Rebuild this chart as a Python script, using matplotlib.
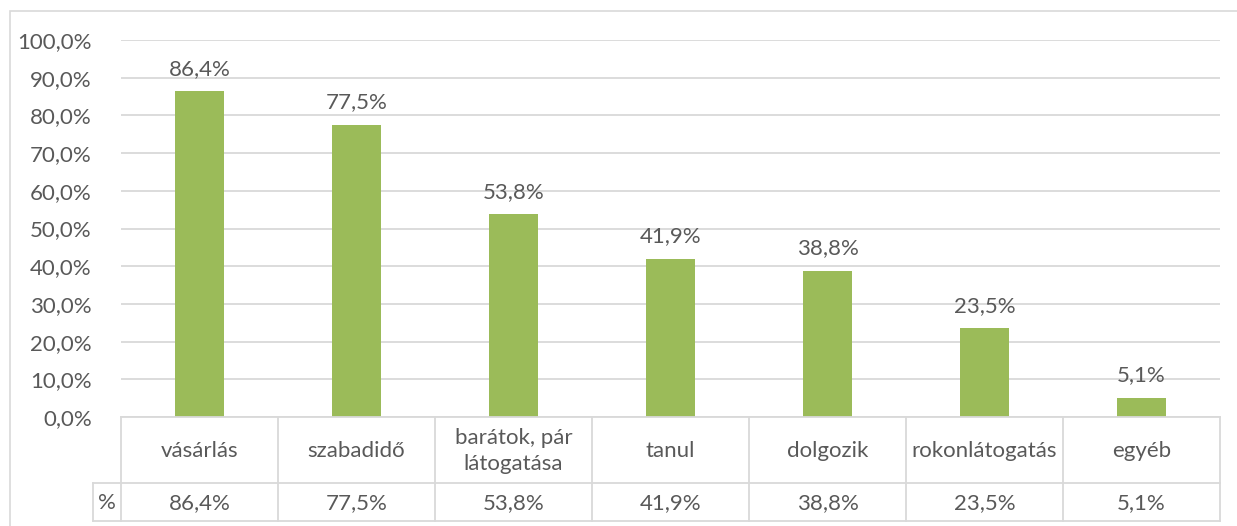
import matplotlib
matplotlib.use("Agg")
import matplotlib.pyplot as plt
from matplotlib.lines import Line2D
from matplotlib.patches import Rectangle

categories = ["vásárlás", "szabadidő", "barátok, pár\nlátogatása", "tanul",
              "dolgozik", "rokonlátogatás", "egyéb"]
values = [86.4, 77.5, 53.8, 41.9, 38.8, 23.5, 5.1]
series_name = "%"
yticks = [0, 10, 20, 30, 40, 50, 60, 70, 80, 90, 100]

def fmt(v):
    return f"{v:.1f}".replace(".", ",") + "%"

plt.rcParams['font.family'] = ['Lato', 'DejaVu Sans']
W, H = 1237, 526
fig = plt.figure(figsize=(W / 100, H / 100), dpi=100)

txt = "#595959"
grid = "#D9D9D9"
green = "#9BBB59"
fs = 16

# outer chart frame
fig.patches.append(Rectangle((10 / W, -0.1), 2, 1 - 11 / H + 0.1,
                             transform=fig.transFigure, fill=False,
                             edgecolor=grid, linewidth=1.2))

x0, x1 = 121, 1220
y_top, y_bot = 40, 417
ax = fig.add_axes([x0 / W, 1 - y_bot / H, (x1 - x0) / W, (y_bot - y_top) / H])
n = len(categories)
xs = list(range(n))
ax.bar(xs, values, width=0.31, color=green, zorder=3)
ax.set_xlim(-0.5, n - 0.5)
ax.set_ylim(0, 100)
ax.set_yticks(yticks)
ax.set_yticklabels([fmt(v) for v in yticks], fontsize=fs, color=txt)
ax.tick_params(axis='y', length=0, pad=21)
ax.tick_params(axis='x', length=0, labelbottom=False)
ax.set_xticks([])
for s in ax.spines.values():
    s.set_visible(False)
ax.yaxis.grid(True, color=grid, linewidth=1.3, zorder=0)
ax.set_axisbelow(True)

for x, v in zip(xs, values):
    ax.annotate(fmt(v), (x, v), xytext=(0, 9), textcoords="offset points",
                ha="center", va="bottom", fontsize=fs, color=txt)

def fx(px):
    return px / W
def fy(py):
    return 1 - py / H

col_w = (x1 - x0) / n
row1_top, row_mid, row_bot = 417, 483, 521
left_pct = 93
lw = 1.3
def line(xa, ya, xb, yb):
    fig.add_artist(Line2D([fx(xa), fx(xb)], [fy(ya), fy(yb)], color=grid,
                          linewidth=lw, transform=fig.transFigure))

line(x0, row1_top, x1, row1_top)
line(left_pct, row_mid, x1, row_mid)
line(left_pct, row_bot, x1, row_bot)
line(left_pct, row_mid, left_pct, row_bot)
for i in range(n + 1):
    xp = x0 + i * col_w
    line(xp, row1_top, xp, row_bot)

for i, (c, v) in enumerate(zip(categories, values)):
    cx = x0 + (i + 0.5) * col_w
    fig.text(fx(cx), fy((row1_top + row_mid) / 2 + 1), c, ha="center", va="center",
             fontsize=fs, color=txt, linespacing=1.35)
    fig.text(fx(cx), fy((row_mid + row_bot) / 2 + 1), fmt(v), ha="center",
             va="center", fontsize=fs, color=txt)
fig.text(fx((left_pct + x0) / 2), fy((row_mid + row_bot) / 2 + 1), series_name,
         ha="center", va="center", fontsize=fs, color=txt)

fig.savefig("out.png", dpi=100, facecolor="white")
